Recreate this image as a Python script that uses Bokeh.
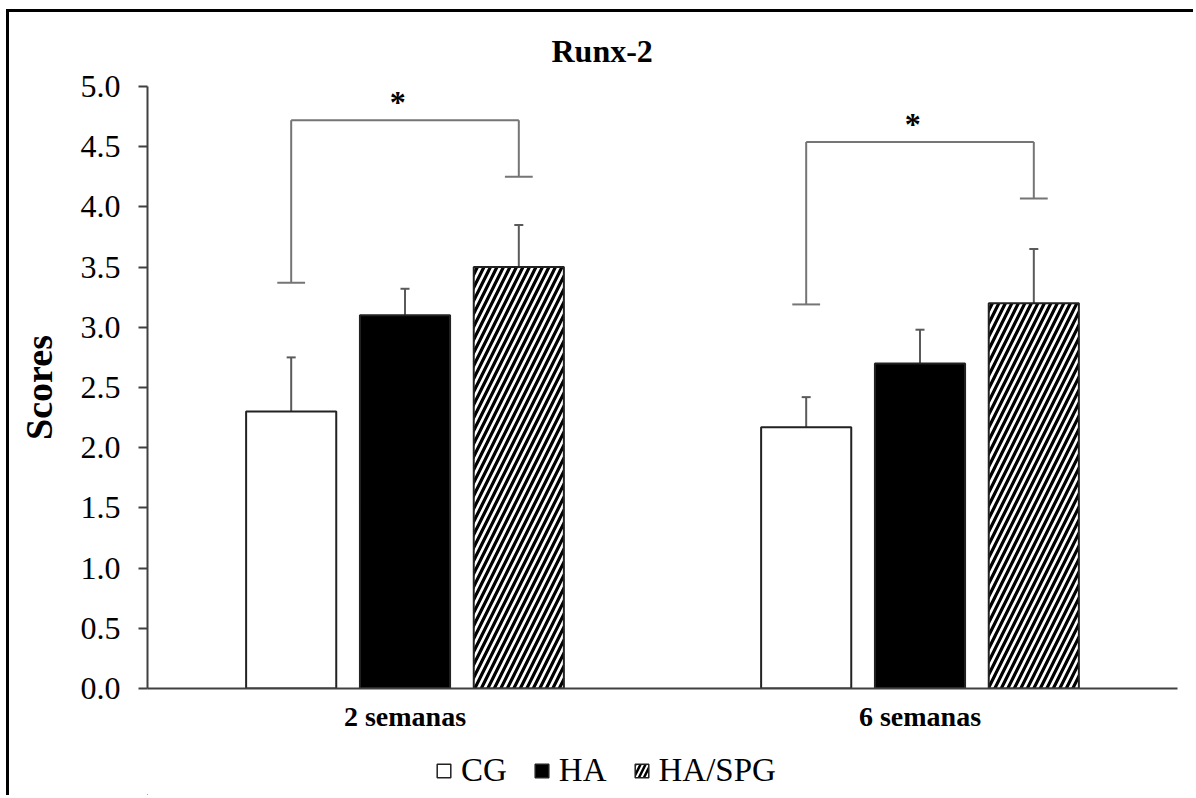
from bokeh.plotting import figure
from bokeh.layouts import column
from bokeh.models import (ColumnDataSource, Whisker, TeeHead, Legend, LegendItem,
                          FixedTicker, Range1d, PrintfTickFormatter)
from bokeh.embed import file_html
from bokeh.resources import INLINE
from bokeh.core.properties import value

# ---------------- data ----------------
groups = ["2 semanas", "6 semanas"]
group_pos = [0.5, 1.5]
series = ["CG", "HA", "HA/SPG"]
cg_mean = [2.30, 2.17]
ha_mean = [3.10, 2.70]
haspg_mean = [3.50, 3.20]
cg_err = [0.45, 0.25]
ha_err = [0.22, 0.28]
haspg_err = [0.35, 0.45]
# significance brackets (CG vs HA/SPG) per group
sig_left_y = [3.37, 3.19]
sig_right_y = [4.25, 4.07]
sig_top_y = [4.72, 4.54]
sig_label = ["*", "*"]
y_ticks = [0.0, 0.5, 1.0, 1.5, 2.0, 2.5, 3.0, 3.5, 4.0, 4.5, 5.0]

# ---------------- style ----------------
SERIF = "Liberation Serif"
offsets = [-0.221, 0.0, 0.221]
bar_w = 0.175
cap_half = 0.027
fills = ["white", "black", "white"]
hatches = [" ", " ", "/"]
BORDER = "3px solid black"

W = 1187
p = figure(width=W, height=728, output_backend="svg", toolbar_location=None,
           x_range=Range1d(0, 2), y_range=Range1d(0, 5),
           min_border_left=138, min_border_right=19, min_border_top=74,
           min_border_bottom=52)
p.margin = (9, 0, 0, 6)
p.styles = {"border-top": BORDER, "border-left": BORDER}
p.outline_line_color = None
p.xgrid.grid_line_color = None
p.ygrid.grid_line_color = None
p.background_fill_color = "white"
p.border_fill_color = "white"

p.title.text = "Runx-2"
p.title.align = "left"
p.title.offset = 404
p.title.vertical_align = "middle"
p.title.text_font = SERIF
p.title.text_font_style = "bold"
p.title.text_font_size = "32px"
p.title.text_color = "black"
p.title.standoff = 34

means = [cg_mean, ha_mean, haspg_mean]
errs = [cg_err, ha_err, haspg_err]
sources = []
for i, name in enumerate(series):
    xs = [g + offsets[i] for g in group_pos]
    src = ColumnDataSource(dict(x=xs, top=means[i],
                                upper=[m + e for m, e in zip(means[i], errs[i])],
                                lower=means[i]))
    sources.append(src)
    w = Whisker(base="x", upper="upper", lower="lower", source=src,
                line_color="#5a5a5a", line_width=2,
                upper_head=TeeHead(size=9, line_color="#5a5a5a", line_width=2),
                lower_head=None, level="underlay")
    p.add_layout(w)
    p.vbar(x="x", top="top", width=bar_w, bottom=0, source=src,
           fill_color=fills[i], line_color="#222222", line_width=2,
           hatch_pattern=hatches[i], hatch_color="black",
           hatch_scale=13, hatch_weight=3.2)

# significance brackets
x0s, y0s, x1s, y1s = [], [], [], []
for g, ly, ry, ty in zip(group_pos, sig_left_y, sig_right_y, sig_top_y):
    xl = g + offsets[0]
    xr = g + offsets[2]
    x0s += [xl, xl, xr, xl - cap_half, xr - cap_half]
    y0s += [ly, ty, ty, ly, ry]
    x1s += [xl, xr, xr, xl + cap_half, xr + cap_half]
    y1s += [ty, ty, ry, ly, ry]
p.segment(x0=x0s, y0=y0s, x1=x1s, y1=y1s, line_color="#757575", line_width=2)
mids = [g + (offsets[0] + offsets[2]) / 2 - 0.014 for g in group_pos]
p.text(x=mids, y=sig_top_y, text=sig_label, text_align="center",
       text_baseline="alphabetic", y_offset=-18, text_font=value(SERIF),
       text_font_style="bold", text_font_size="32px", text_color="black")

# axes
p.yaxis.ticker = FixedTicker(ticks=y_ticks)
p.yaxis.formatter = PrintfTickFormatter(format="%.1f")
p.yaxis.axis_label = "Scores"
p.yaxis.axis_label_text_font = SERIF
p.yaxis.axis_label_text_font_style = "bold"
p.yaxis.axis_label_text_font_size = "38px"
p.yaxis.axis_label_text_color = "black"
p.yaxis.axis_label_standoff = 18
p.yaxis.major_label_text_font = SERIF
p.yaxis.major_label_text_font_size = "32px"
p.yaxis.major_label_text_color = "black"
p.yaxis.major_label_standoff = 18
p.yaxis.major_tick_out = 9
p.yaxis.major_tick_in = 0
p.yaxis.minor_tick_out = 0
p.yaxis.minor_tick_in = 0
p.yaxis.axis_line_color = "#404040"
p.yaxis.axis_line_width = 2
p.yaxis.major_tick_line_color = "#404040"
p.yaxis.major_tick_line_width = 2

p.xaxis.ticker = FixedTicker(ticks=group_pos)
p.xaxis.major_label_overrides = {group_pos[0]: groups[0], group_pos[1]: groups[1]}
p.xaxis.major_label_text_font = SERIF
p.xaxis.major_label_text_font_style = "bold"
p.xaxis.major_label_text_font_size = "28px"
p.xaxis.major_label_text_color = "black"
p.xaxis.major_label_standoff = 12
p.xaxis.major_tick_out = 0
p.xaxis.major_tick_in = 0
p.xaxis.minor_tick_out = 0
p.xaxis.minor_tick_in = 0
p.xaxis.axis_line_color = "#404040"
p.xaxis.axis_line_width = 2

# legend strip below the chart (same series glyphs, their bars kept out of view)
pl = figure(width=W, height=58, output_backend="svg", toolbar_location=None,
            x_range=Range1d(100, 102), y_range=Range1d(100, 105),
            x_axis_location=None, y_axis_location=None, min_border=0)
pl.margin = (0, 0, 0, 6)
pl.styles = {"border-left": BORDER}
pl.outline_line_color = None
pl.xgrid.grid_line_color = None
pl.ygrid.grid_line_color = None
leg_items = []
for i, name in enumerate(series):
    r = pl.vbar(x="x", top="top", width=bar_w, bottom=0, source=sources[i],
                fill_color=fills[i], line_color="#222222", line_width=1.5,
                hatch_pattern=hatches[i], hatch_color="black",
                hatch_scale=10, hatch_weight=2.5)
    leg_items.append(LegendItem(label=name, renderers=[r]))
legend = Legend(items=leg_items, orientation="horizontal", location=(288, 6),
                border_line_color=None, background_fill_alpha=0,
                glyph_width=17, glyph_height=17, label_standoff=9, spacing=26,
                label_text_font=SERIF, label_text_font_size="33px",
                label_text_color="black", padding=4, margin=0)
pl.add_layout(legend, "center")

layout = column(p, pl, spacing=0)
open("out.html", "w").write(file_html(layout, INLINE))
